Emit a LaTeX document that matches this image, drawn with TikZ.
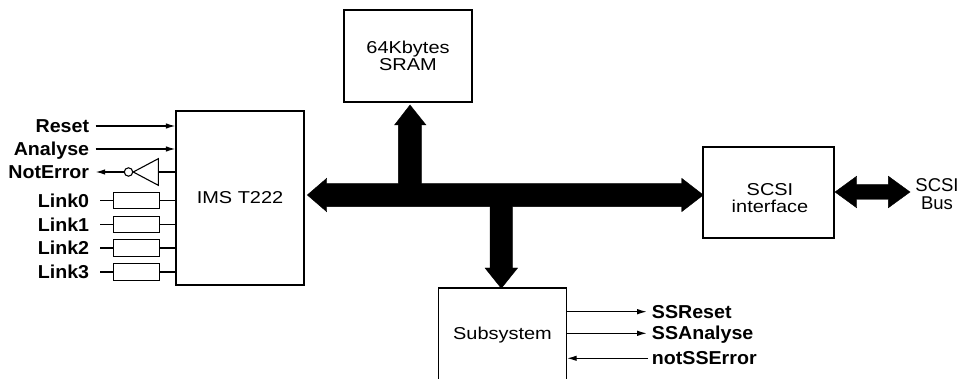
\documentclass[tikz,border=0pt]{standalone}
\usepackage{fontspec}
\setmainfont{Liberation Sans}
\newfontfamily\regf{Liberation Sans}[FakeStretch=1.16]
\newfontfamily\bldf{Liberation Sans}[FakeStretch=1.05]
\usetikzlibrary{arrows.meta,calc}
\begin{document}
\begin{tikzpicture}[x=1pt,y=-1pt,
  box/.style={draw, line width=1.3pt, inner sep=0pt, align=center,
    font=\regf\fontsize{17.2}{13.6}\selectfont},
  txt/.style={inner sep=0pt, align=center, font=\regf\fontsize{17.2}{13.6}\selectfont},
  blab/.style={inner sep=0pt, text height=13.3pt, text depth=0pt,
    font=\bldf\bfseries\fontsize{18.7}{20}\selectfont},
  wire/.style={line width=1.1pt},
  sig/.style={wire, -{Latex[length=9.5pt,width=5.5pt]}},
  linkbox/.style={draw, wire, minimum width=46.3pt, minimum height=16.7pt, inner sep=0pt},
  busfill/.style={fill=black, draw=black, line width=0.4pt, line join=miter}
]
\useasboundingbox (0,0) rectangle (966,379);
\clip (0,0) rectangle (966,379);

% main blocks
\node[box, minimum width=128pt, minimum height=174pt] (ims) at (240,198) {IMS T222};
\node[box, minimum width=128pt, minimum height=92pt] (sram) at (408,56) {64Kbytes\\SRAM};
\node[box, minimum width=131pt, minimum height=91pt] (scsi) at (768.5,192.5) {};
\node[txt, font=\regf\fontsize{17.2}{17.7}\selectfont] (scsit) at (770,198) {SCSI\\interface};
\node[box, minimum width=128pt, minimum height=94pt] (sub) at (502.5,335) {Subsystem};

% left-side signals
\node[blab, anchor=east] (reset) at (89.3,126) {Reset};
\node[blab, anchor=east] (analyse) at (89.3,149) {Analyse};
\node[blab, anchor=east] (noterr) at (89.3,172) {NotError};
\draw[sig] ([xshift=6.4pt]reset.east) -- (reset.east -| ims.west);
\draw[sig] ([xshift=6.4pt]analyse.east) -- (analyse.east -| ims.west);

% inverter on NotError
\coordinate (invb) at (158.3,172);
\node[circle, draw, wire, minimum size=8.4pt, inner sep=0pt] (bub) at (128.5,172) {};
\draw[wire] (invb -| ims.west) -- (invb);
\draw[wire, line join=miter] ($(invb)+(0,-13.3)$) -- (bub.east) -- ($(invb)+(0,13.3)$) -- cycle;
\draw[sig] (bub.west) -- ([xshift=6.4pt]noterr.east);

% links
\foreach \i/\y in {0/200.5,1/224.5,2/248,3/272}{
  \node[blab, anchor=east] (l\i) at (89.3,\y) {Link\i};
  \node[linkbox] (lb\i) at (136.2,\y) {};
  \draw[wire] ([xshift=10.7pt]l\i.east) -- (lb\i.west);
  \draw[wire] (lb\i.east) -- (lb\i.east -| ims.west);
}

% main bus
\draw[busfill] (307.3,195) -- (326.7,178.3) -- (326.7,183.3) -- (398.3,183.3)
  -- (398.3,125) -- (394.5,125) -- (410,105) -- (426,125) -- (421.7,125)
  -- (421.7,183.3) -- (681.7,183.3) -- (681.7,178.3) -- (703.3,195)
  -- (681.7,211.7) -- (681.7,206.7) -- (512.7,206.7) -- (512.7,268)
  -- (517.6,268) -- (501.3,288.3) -- (485,268) -- (490,268) -- (490,206.7)
  -- (326.7,206.7) -- (326.7,211.7) -- cycle;

% SCSI bus arrow
\node[inner sep=0pt, align=center, font=\fontsize{18.5}{17.5}\selectfont] (busl) at (937,194) {SCSI\\Bus};
\draw[busfill] (835,192) -- (856.7,176.2) -- (856.7,184.5) -- (888.3,184.5)
  -- (888.3,176.2) -- (910,192) -- (888.3,207.8) -- (888.3,199.5)
  -- (856.7,199.5) -- (856.7,207.8) -- cycle;

% subsystem signals
\node[blab, anchor=west] (ssr) at (651.7,311.7) {SSReset};
\node[blab, anchor=west] (ssa) at (651.7,333.3) {SSAnalyse};
\node[blab, anchor=west] (nsse) at (651.7,358.3) {notSSError};
\draw[sig] (ssr.west -| sub.east) -- ([xshift=-5pt]ssr.west);
\draw[sig] (ssa.west -| sub.east) -- ([xshift=-5pt]ssa.west);
\draw[sig] ([xshift=-3.7pt]nsse.west) -- (nsse.west -| sub.east);
\end{tikzpicture}
\end{document}
